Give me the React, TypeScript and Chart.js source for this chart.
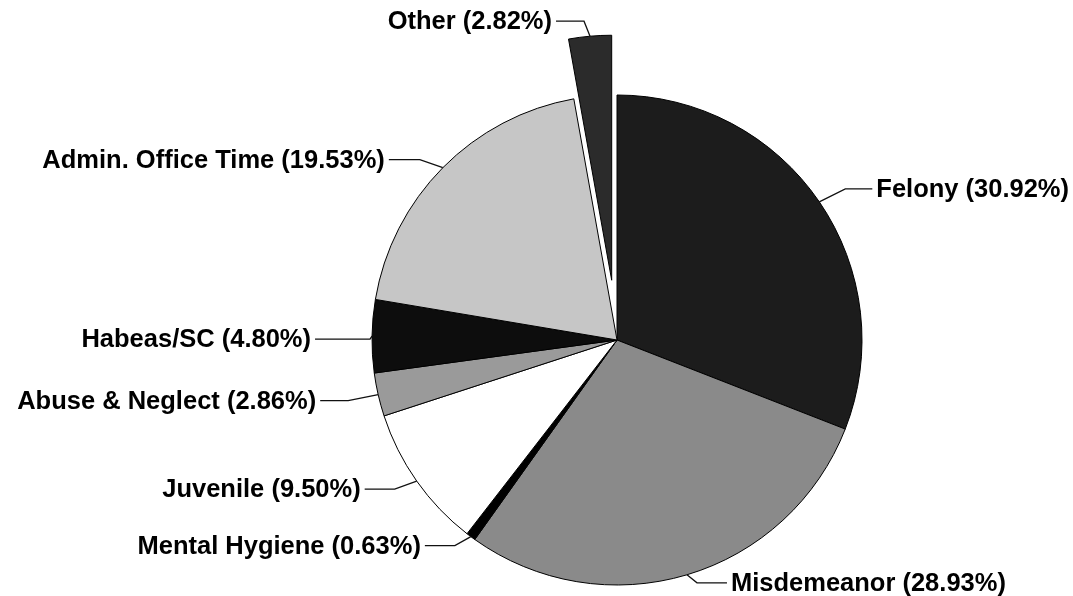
import React, { useEffect, useRef } from 'react';
import { Chart, registerables } from 'chart.js';

Chart.register(...registerables);

// ---- Data ----
const categories = [
  'Felony',
  'Misdemeanor',
  'Mental Hygiene',
  'Juvenile',
  'Abuse & Neglect',
  'Habeas/SC',
  'Admin. Office Time',
  'Other',
];
const percentages = [30.92, 28.93, 0.63, 9.5, 2.86, 4.8, 19.53, 2.82];

// ---- Styles ----
const sliceColors = ['#1c1c1c', '#8a8a8a', '#000000', '#ffffff', '#9a9a9a', '#0d0d0d', '#c6c6c6', '#2b2b2b'];
const explodedIndex = 7;
const explodeDistance = 60;
const pieRadius = 245;

// leader-line layout (offsets from the slice rim point, horizontal length, side)
const leaderLayout = [
  { dx: 26, dy: -13, len: 27, side: 'right' },
  { dx: 10, dy: 8, len: 30, side: 'right' },
  { dx: -16, dy: 9, len: 30, side: 'left' },
  { dx: -22, dy: 8, len: 30, side: 'left' },
  { dx: -30, dy: 6, len: 28, side: 'left' },
  { dx: -2, dy: 3, len: 55, side: 'left' },
  { dx: -23, dy: -8, len: 31, side: 'left' },
  { dx: -6, dy: -15, len: 28, side: 'left' },
];

const labelFont = 'bold 25.5px "Liberation Sans", Arial, Helvetica, sans-serif';

const explodePlugin = {
  id: 'explodeSlice',
  beforeDatasetsDraw(chart: any) {
    const meta = chart.getDatasetMeta(0);
    const el = meta.data[explodedIndex];
    if (el && !el.__patched) {
      const orig = el.draw;
      el.draw = function (ctx: CanvasRenderingContext2D, area: any) {
        const mid = (this.startAngle + this.endAngle) / 2;
        ctx.save();
        ctx.translate(Math.cos(mid) * explodeDistance, Math.sin(mid) * explodeDistance);
        orig.call(this, ctx, area);
        ctx.restore();
      };
      el.__patched = true;
    }
  },
};

const leaderLabelPlugin = {
  id: 'leaderLabels',
  afterDraw(chart: any) {
    const ctx: CanvasRenderingContext2D = chart.ctx;
    const meta = chart.getDatasetMeta(0);
    ctx.save();
    ctx.font = labelFont;
    ctx.fillStyle = '#000';
    ctx.strokeStyle = '#111';
    ctx.lineWidth = 1.3;
    ctx.textBaseline = 'middle';
    meta.data.forEach((arc: any, i: number) => {
      const mid = (arc.startAngle + arc.endAngle) / 2;
      let cx = arc.x;
      let cy = arc.y;
      if (i === explodedIndex) {
        cx += Math.cos(mid) * explodeDistance;
        cy += Math.sin(mid) * explodeDistance;
      }
      const sx = cx + Math.cos(mid) * arc.outerRadius;
      const sy = cy + Math.sin(mid) * arc.outerRadius;
      const lay = leaderLayout[i];
      const ex = sx + lay.dx;
      const ey = sy + lay.dy;
      const dir = lay.side === 'right' ? 1 : -1;
      const hx = ex + dir * lay.len;
      ctx.beginPath();
      ctx.moveTo(sx, sy);
      ctx.lineTo(ex, ey);
      ctx.lineTo(hx, ey);
      ctx.stroke();
      const text = `${categories[i]} (${percentages[i].toFixed(2)}%)`;
      ctx.textAlign = lay.side === 'right' ? 'left' : 'right';
      ctx.fillText(text, hx + dir * 4, ey + 1);
    });
    ctx.restore();
  },
};

export default function App() {
  const canvasRef = useRef<HTMLCanvasElement | null>(null);

  useEffect(() => {
    if (!canvasRef.current) return;
    const chart = new Chart(canvasRef.current, {
      type: 'pie',
      data: {
        labels: categories,
        datasets: [
          {
            data: percentages,
            backgroundColor: sliceColors,
            borderColor: '#000',
            borderWidth: 1,
            clip: false as any,
          },
        ],
      },
      options: {
        responsive: false,
        animation: false,
        radius: pieRadius,
        layout: { padding: { left: 161, top: 84, right: 0, bottom: 0 } },
        plugins: {
          legend: { display: false },
          tooltip: { enabled: false },
        },
        events: [],
      } as any,
      plugins: [explodePlugin, leaderLabelPlugin],
    });
    return () => chart.destroy();
  }, []);

  return (
    <div style={{ position: 'absolute', left: 0, top: 0, width: 1073, height: 596, background: '#fff' }}>
      <canvas ref={canvasRef} width={1073} height={596} />
    </div>
  );
}
